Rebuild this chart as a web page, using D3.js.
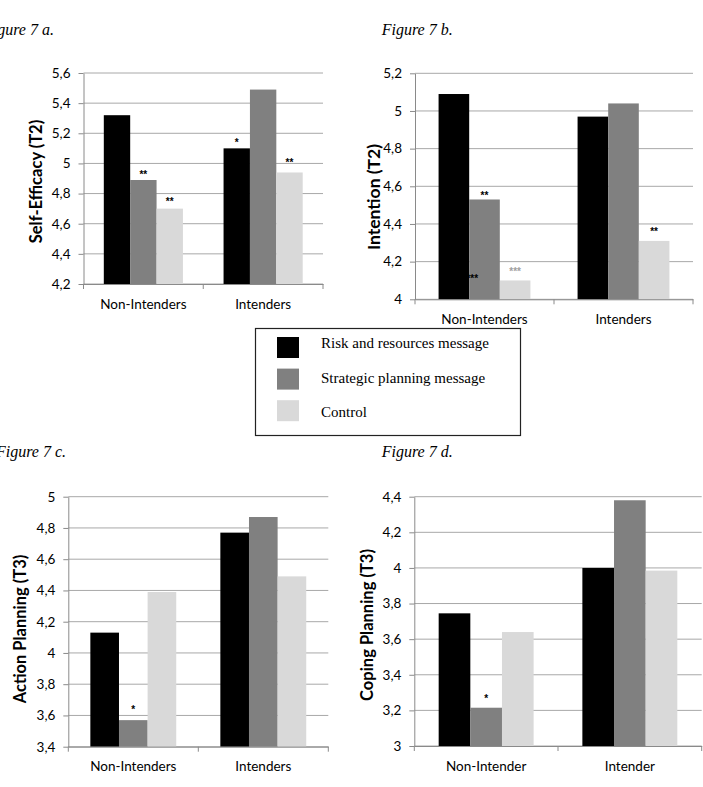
<!DOCTYPE html>
<html>
<head>
<meta charset="utf-8">
<script src="https://cdn.jsdelivr.net/npm/d3@7"></script>
<style>
  body { margin: 0; background: white; }
  svg { display: block; }
</style>
</head>
<body>
<script>
const series = ["Risk and resources message", "Strategic planning message", "Control"]
const seriesColors = ["#000000", "#808080", "#d9d9d9"]

const groupsPlural = ["Non-Intenders", "Intenders"]
const groupsSingular = ["Non-Intender", "Intender"]

// one row per group: [risk, strategic, control]
const selfEfficacy = [[5.32, 4.89, 4.70], [5.10, 5.49, 4.94]]
const intention = [[5.09, 4.53, 4.10], [4.97, 5.04, 4.31]]
const actionPlanning = [[4.13, 3.57, 4.39], [4.77, 4.87, 4.49]]
const copingPlanning = [[3.745, 3.215, 3.64], [4.00, 4.38, 3.985]]

const ticksSelfEfficacy = [4.2, 4.4, 4.6, 4.8, 5, 5.2, 5.4, 5.6]
const ticksIntention = [4, 4.2, 4.4, 4.6, 4.8, 5, 5.2]
const ticksAction = [3.4, 3.6, 3.8, 4, 4.2, 4.4, 4.6, 4.8, 5]
const ticksCoping = [3, 3.2, 3.4, 3.6, 3.8, 4, 4.2, 4.4]

// significance marks: [group, series position, level, label]
const marksSelfEfficacy = [[0, 1, 4.945, "**"], [0, 2, 4.764, "**"], [1, 0, 5.156, "*"], [1, 2, 5.023, "**"]]
const marksIntention = [[0, 1, 4.565, "**"], [0, 0.6, 4.124, "***"], [0, 2, 4.161, "***"], [1, 2, 4.373, "**"]]
const marksAction = [[0, 1, 3.656, "*"]]
const marksCoping = [[0, 1, 3.283, "*"]]

const [width, height] = [703, 787]
const colors = {
    grid: "#a8a8a8",
    axis: "#8a8a8a",
    text: "#000000",
    faint: "#a0a0a0"
}
const sans = "Lato, 'Open Sans', sans-serif"
const serif = "'Liberation Serif', 'Times New Roman', serif"
const commaFormat = d => String(+d.toFixed(1)).replace(".", ",")

const panels = [
    { title: "Figure 7 a.", titleX: -17, titleY: 35, yLabel: "Self-Efficacy (T2)", labelX: 42, labelY: 181.5, labelSize: 16.5,
      groups: groupsPlural, values: selfEfficacy, ticks: ticksSelfEfficacy, marks: marksSelfEfficacy,
      box: [83.5, 73, 323, 284] },
    { title: "Figure 7 b.", titleX: 381.7, titleY: 35, yLabel: "Intention (T2)", labelX: 380, labelY: 197, labelSize: 17.5,
      groups: groupsPlural, values: intention, ticks: ticksIntention, marks: marksIntention, faint: [2],
      box: [415, 73.3, 693, 299.3] },
    { title: "Figure 7 c.", titleX: -4, titleY: 457, yLabel: "Action Planning (T3)", labelX: 25.5, labelY: 629, labelSize: 16.5,
      groups: groupsPlural, values: actionPlanning, ticks: ticksAction, marks: marksAction,
      box: [68.3, 496.7, 328.3, 746.7] },
    { title: "Figure 7 d.", titleX: 381.7, titleY: 457, yLabel: "Coping Planning (T3)", labelX: 373, labelY: 625, labelSize: 16.5,
      groups: groupsSingular, values: copingPlanning, ticks: ticksCoping, marks: marksCoping,
      box: [414.3, 496.7, 701.7, 746] }
]

const svg = d3.select("body")
    .append("svg")
        .attr("width", width)
        .attr("height", height)
        .style("background", "white")

panels.forEach(p => {
    const [x0, y0, x1, y1] = p.box
    const g = svg.append("g")

    const x = d3.scaleBand().domain(p.groups).range([x0, x1])
    const xs = d3.scaleBand().domain(d3.range(series.length)).range([0, x.bandwidth()]).paddingOuter(0.77)
    const y = d3.scaleLinear().domain(d3.extent(p.ticks)).range([y1, y0])

    // gridlines
    g.append("g").selectAll("line")
    .data(p.ticks)
    .join("line")
        .attr("x1", x0)
        .attr("x2", x1)
        .attr("y1", d => y(d))
        .attr("y2", d => y(d))
        .attr("stroke", colors.grid)
        .attr("stroke-width", 1)

    // bars
    const bars = p.values.flatMap((vals, gi) => vals.map((v, si) => ({ group: p.groups[gi], s: si, v })))
    g.append("g").selectAll("rect")
    .data(bars)
    .join("rect")
        .attr("x", d => x(d.group) + xs(d.s))
        .attr("y", d => y(d.v))
        .attr("width", xs.bandwidth())
        .attr("height", d => y1 - y(d.v))
        .attr("fill", d => seriesColors[d.s])

    // y axis
    const yAxis = g.append("g")
        .attr("transform", `translate(${x0},0)`)
        .call(d3.axisLeft(y).tickValues(p.ticks).tickFormat(commaFormat).tickSize(5).tickSizeOuter(0).tickPadding(8))
    yAxis.select(".domain").attr("stroke", colors.axis)
    yAxis.selectAll(".tick line").attr("stroke", colors.axis)
    yAxis.selectAll("text")
        .attr("fill", colors.text)
        .style("font-family", sans)
        .style("font-size", "13.5px")

    // x axis
    const xAxis = g.append("g")
        .attr("transform", `translate(0,${y1})`)
        .call(d3.axisBottom(x).tickSize(0).tickSizeOuter(0).tickPadding(15))
    xAxis.select(".domain").attr("stroke", colors.axis)
    xAxis.selectAll("text")
        .attr("fill", colors.text)
        .style("font-family", sans)
        .style("font-size", "13.5px")
    const bounds = [x0].concat(p.groups.map(d => x(d) + x.bandwidth()))
    xAxis.selectAll(".bound")
    .data(bounds)
    .join("line")
        .attr("class", "bound")
        .attr("x1", d => d)
        .attr("x2", d => d)
        .attr("y1", 0)
        .attr("y2", 5)
        .attr("stroke", colors.axis)

    // axis title
    g.append("text")
        .text(p.yLabel)
        .attr("transform", `translate(${p.labelX},${p.labelY}) rotate(-90)`)
        .attr("text-anchor", "middle")
        .attr("fill", colors.text)
        .style("font-family", sans)
        .style("font-size", p.labelSize + "px")
        .style("font-weight", "bold")

    // significance marks
    g.append("g").selectAll("text")
    .data(p.marks)
    .join("text")
        .text(d => d[3])
        .attr("x", d => x(p.groups[d[0]]) + xs(0) + xs.bandwidth() / 2 + d[1] * xs.step())
        .attr("y", d => y(d[2]) + 6)
        .attr("text-anchor", "middle")
        .attr("fill", (d, i) => (p.faint || []).includes(i) ? colors.faint : colors.text)
        .style("font-family", "'Liberation Sans', Arial, sans-serif")
        .style("font-size", "10px")
        .style("font-weight", "bold")

    // figure title
    svg.append("text")
        .text(p.title)
        .attr("x", p.titleX)
        .attr("y", p.titleY)
        .attr("fill", "black")
        .style("font-family", serif)
        .style("font-style", "italic")
        .style("font-size", "16px")
})

// LEGEND
const legend = svg.append("g")
legend.append("rect")
    .attr("x", 255.5)
    .attr("y", 328.5)
    .attr("width", 265)
    .attr("height", 107)
    .attr("fill", "white")
    .attr("stroke", "#222")
    .attr("stroke-width", 1.2)

legend.selectAll(".swatch")
.data(series)
.join("rect")
    .attr("class", "swatch")
    .attr("x", 277)
    .attr("y", (d, i) => 337 + i * 31.6)
    .attr("width", 22)
    .attr("height", 21)
    .attr("fill", (d, i) => seriesColors[i])

legend.selectAll(".label")
.data(series)
.join("text")
    .attr("class", "label")
    .text(d => d)
    .attr("x", 321)
    .attr("y", (d, i) => 348.3 + i * 34.5)
    .attr("fill", "black")
    .style("font-family", serif)
    .style("font-size", "15px")
</script>
</body>
</html>
